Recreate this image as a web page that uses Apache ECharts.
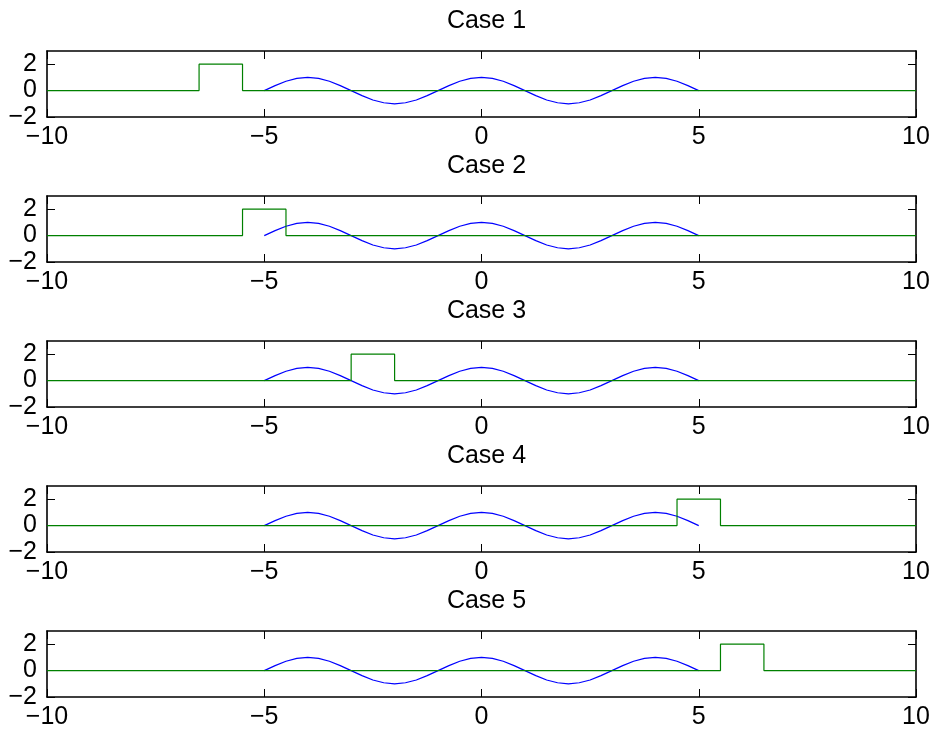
<!DOCTYPE html>
<html>
<head>
<meta charset="utf-8">
<script src="https://cdn.jsdelivr.net/npm/echarts@6/dist/echarts.min.js"></script>
<style>
html,body{margin:0;padding:0;background:#fff;}
#chart{width:935px;height:734px;}
</style>
</head>
<body>
<div id="chart"></div>
<script>
// ---- data ----
const caseTitles = ['Case 1', 'Case 2', 'Case 3', 'Case 4', 'Case 5'];
const xTicks = [-10, -5, 0, 5, 10];
const yTicks = [-2, 0, 2];
const xRange = [-10, 10];
const yRange = [-2, 3];
// blue curve, sampled every 0.25 from -5 to 5
const cosX = [-5,-4.75,-4.5,-4.25,-4,-3.75,-3.5,-3.25,-3,-2.75,-2.5,-2.25,-2,-1.75,-1.5,-1.25,-1,-0.75,-0.5,-0.25,0,0.25,0.5,0.75,1,1.25,1.5,1.75,2,2.25,2.5,2.75,3,3.25,3.5,3.75,4,4.25,4.5,4.75,5];
const cosY = [0,0.38,0.71,0.92,1,0.92,0.71,0.38,0,-0.38,-0.71,-0.92,-1,-0.92,-0.71,-0.38,0,0.38,0.71,0.92,1,0.92,0.71,0.38,0,-0.38,-0.71,-0.92,-1,-0.92,-0.71,-0.38,0,0.38,0.71,0.92,1,0.92,0.71,0.38,0];
// green pulse per case
const pulseStart = [-6.5, -5.5, -3, 4.5, 5.5];
const pulseEnd = [-5.5, -4.5, -2, 5.5, 6.5];
const pulseHeight = 2;

// ---- build ----
const FONT = 'Liberation Sans, Arial, Helvetica, sans-serif';
const fmt = v => String(v).replace('-', '\u2212');
const gridLeft = 47, gridWidth = 869, gridTop0 = 51, gridStep = 145, gridHeight = 66;

const grids = [], xAxes = [], yAxes = [], series = [], titles = [];
const lineStyle = {color: '#000', width: 1.6};
for (let i = 0; i < caseTitles.length; i++) {
  const top = gridTop0 + gridStep * i;
  grids.push({left: gridLeft, top: top, width: gridWidth, height: gridHeight, containLabel: false});
  titles.push({
    text: caseTitles[i], left: gridLeft + gridWidth / 2, top: top - 47, textAlign: 'center',
    textStyle: {fontFamily: FONT, fontSize: 25, fontWeight: 'normal', color: '#000'}
  });
  // bottom x
  xAxes.push({
    type: 'value', gridIndex: i, min: xRange[0], max: xRange[1], position: 'bottom',
    axisLine: {show: true, onZero: false, lineStyle: lineStyle},
    axisTick: {show: true, inside: true, length: 8, customValues: xTicks, lineStyle: {color: '#000', width: 1}},
    axisLabel: {show: true, customValues: xTicks, formatter: fmt, margin: 8, color: '#000', fontFamily: FONT, fontSize: 25},
    splitLine: {show: false}
  });
  // top x (mirror)
  xAxes.push({
    type: 'value', gridIndex: i, min: xRange[0], max: xRange[1], position: 'top',
    axisLine: {show: true, onZero: false, lineStyle: lineStyle},
    axisTick: {show: true, inside: true, length: 8, customValues: xTicks, lineStyle: {color: '#000', width: 1}},
    axisLabel: {show: false},
    splitLine: {show: false}
  });
  // left y
  yAxes.push({
    type: 'value', gridIndex: i, min: yRange[0], max: yRange[1], position: 'left',
    axisLine: {show: true, onZero: false, lineStyle: lineStyle},
    axisTick: {show: true, inside: true, length: 8, customValues: yTicks, lineStyle: {color: '#000', width: 1}},
    axisLabel: {show: true, customValues: yTicks, formatter: fmt, margin: 10, color: '#000', fontFamily: FONT, fontSize: 25},
    splitLine: {show: false}
  });
  // right y (mirror)
  yAxes.push({
    type: 'value', gridIndex: i, min: yRange[0], max: yRange[1], position: 'right',
    axisLine: {show: true, onZero: false, lineStyle: lineStyle},
    axisTick: {show: true, inside: true, length: 8, customValues: yTicks, lineStyle: {color: '#000', width: 1}},
    axisLabel: {show: false},
    splitLine: {show: false}
  });
  const blue = cosX.map((x, k) => [x, cosY[k]]);
  const s = pulseStart[i], e = pulseEnd[i];
  const green = [[xRange[0], 0], [s, 0], [s, pulseHeight], [e, pulseHeight], [e, 0], [xRange[1], 0]];
  series.push({
    type: 'line', xAxisIndex: 2 * i, yAxisIndex: 2 * i, data: blue, showSymbol: false, symbol: 'none',
    lineStyle: {color: '#0000ff', width: 1.2}, silent: true, animation: false, z: 2
  });
  series.push({
    type: 'line', xAxisIndex: 2 * i, yAxisIndex: 2 * i, data: green, showSymbol: false, symbol: 'none',
    lineStyle: {color: '#008000', width: 1.2}, silent: true, animation: false, z: 3
  });
}

const chart = echarts.init(document.getElementById('chart'), null, {renderer: 'canvas'});
chart.setOption({
  backgroundColor: '#fff',
  animation: false,
  title: titles,
  grid: grids,
  xAxis: xAxes,
  yAxis: yAxes,
  series: series
});
</script>
</body>
</html>
